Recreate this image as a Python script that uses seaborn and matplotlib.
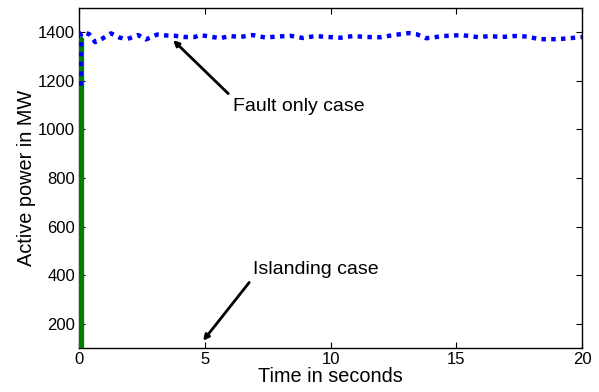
import numpy as np
import pandas as pd
import matplotlib
matplotlib.use("Agg")
import matplotlib.pyplot as plt
import seaborn as sns

# Fault only case (blue dotted)
fault_t = [0.07, 0.07, 0.12, 0.2, 0.4, 0.64, 0.9, 1.27, 1.6, 1.9, 2.35, 2.66, 3.1,
           3.5, 3.8, 4.2, 4.6, 4.8, 5.2, 5.6, 6.0, 6.4, 6.9, 7.4, 7.9, 8.4, 8.9, 9.4,
           9.9, 10.4, 10.9, 11.4, 12.0, 12.5, 13.1, 13.4, 13.8, 14.5, 15.2, 15.9,
           16.3, 16.8, 17.3, 17.8, 18.3, 19.0, 19.5, 20.0]
fault_p = [1180, 1396, 1400, 1398, 1392, 1359, 1372, 1395, 1378, 1371, 1388, 1370, 1390,
           1386, 1385, 1380, 1380, 1388, 1382, 1375, 1384, 1380, 1388, 1378, 1382, 1385, 1376, 1384,
           1380, 1377, 1384, 1380, 1379, 1388, 1396, 1392, 1375, 1384, 1388, 1379,
           1384, 1380, 1384, 1382, 1371, 1371, 1375, 1380]

# Islanding case (green solid)
island_t = [0.06, 0.06, 20.0]
island_p = [1370, 0, 0]

xticks = [0, 5, 10, 15, 20]
yticks = [200, 400, 600, 800, 1000, 1200, 1400]

sns.set_style("ticks")
plt.rcParams['font.family'] = ['Liberation Sans', 'DejaVu Sans']
plt.rcParams['xtick.direction'] = 'in'
plt.rcParams['ytick.direction'] = 'in'
plt.rcParams['text.color'] = 'black'
plt.rcParams['axes.labelcolor'] = 'black'

fig, ax = plt.subplots(figsize=(5.99, 3.92), dpi=100)
fig.subplots_adjust(left=0.132, right=0.972, top=0.98, bottom=0.112)

df_i = pd.DataFrame({"t": island_t, "p": island_p})
df_f = pd.DataFrame({"t": fault_t, "p": fault_p})
sns.lineplot(data=df_i, x="t", y="p", ax=ax, color="#007f00", linewidth=3.8,
             estimator=None, sort=False)
sns.lineplot(data=df_f, x="t", y="p", ax=ax, color="#0000ff", linewidth=3.2,
             linestyle=(0, (1.0, 1.2)), estimator=None, sort=False)

ax.set_xlim(0, 20)
ax.set_ylim(100, 1500)
ax.set_xticks(xticks)
ax.set_yticks(yticks)
ax.tick_params(labelsize=12, length=4, width=0.8, top=True, right=True,
               colors="black", pad=3)
for s in ax.spines.values():
    s.set_visible(True)
    s.set_linewidth(1.0)
    s.set_color("black")
    s.set_zorder(1)
ax.set_xlabel("Time in seconds", fontsize=14.3, labelpad=0)
ax.set_ylabel("Active power in MW", fontsize=14.3, labelpad=1)

ax.annotate("Fault only case", xy=(3.74, 1367), xytext=(6.1, 1095),
            fontsize=14, va="center", ha="left",
            arrowprops=dict(arrowstyle="-|>", color="black", lw=2,
                            mutation_scale=8, shrinkA=1, shrinkB=0,
                            relpos=(0.0, 1.0)))
ax.annotate("Islanding case", xy=(4.93, 130), xytext=(6.9, 423),
            fontsize=14, va="center", ha="left",
            arrowprops=dict(arrowstyle="-|>", color="black", lw=2,
                            mutation_scale=8, shrinkA=1, shrinkB=0,
                            relpos=(0.0, 0.0)))

fig.savefig("out.png", dpi=100)
